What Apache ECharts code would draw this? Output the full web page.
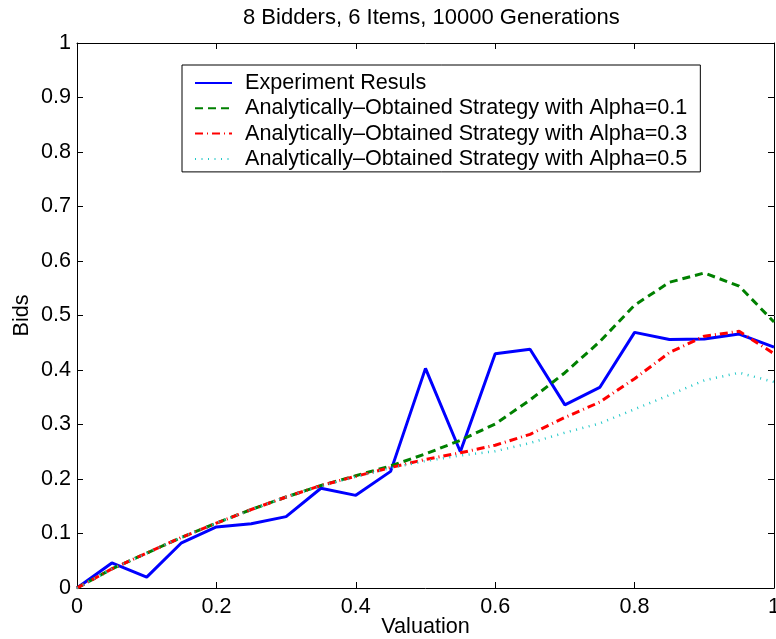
<!DOCTYPE html>
<html>
<head>
<meta charset="utf-8">
<script src="https://cdn.jsdelivr.net/npm/echarts@6/dist/echarts.min.js"></script>
<style>
  html, body { margin: 0; padding: 0; background: #fff; }
  #chart { width: 776px; height: 639px; }
</style>
</head>
<body>
<div id="chart"></div>
<script>
// Valuation grid shared by every curve
const valuation = [0, 0.05, 0.1, 0.15, 0.2, 0.25, 0.3, 0.35, 0.4, 0.45, 0.5,
                   0.55, 0.6, 0.65, 0.7, 0.75, 0.8, 0.85, 0.9, 0.95, 1];

// Mean bids from the evolutionary run
const experimentBids = [0, 0.046, 0.020, 0.083, 0.112, 0.118, 0.131, 0.183, 0.170, 0.214, 0.403,
                        0.250, 0.430, 0.438, 0.336, 0.368, 0.469, 0.456, 0.457, 0.466, 0.442];

// Analytic bidding strategies for three values of alpha
const alpha01Bids = [0, 0.035, 0.064, 0.093, 0.119, 0.144, 0.167, 0.188, 0.206, 0.224, 0.246,
                     0.271, 0.301, 0.345, 0.395, 0.452, 0.519, 0.561, 0.578, 0.554, 0.488];
const alpha03Bids = [0, 0.035, 0.064, 0.093, 0.119, 0.144, 0.167, 0.188, 0.205, 0.221, 0.236,
                     0.248, 0.262, 0.282, 0.313, 0.341, 0.384, 0.432, 0.462, 0.471, 0.430];
const alpha05Bids = [0, 0.035, 0.064, 0.093, 0.119, 0.144, 0.167, 0.187, 0.204, 0.220, 0.233,
                     0.243, 0.251, 0.266, 0.285, 0.302, 0.328, 0.354, 0.381, 0.395, 0.378];

const seriesNames = [
  'Experiment Resuls',
  'Analytically\u2013Obtained Strategy with Alpha=0.1',
  'Analytically\u2013Obtained Strategy with Alpha=0.3',
  'Analytically\u2013Obtained Strategy with Alpha=0.5'
];

// Tick positions
const xTicks = [0, 0.2, 0.4, 0.6, 0.8, 1];
const yTicks = [0, 0.1, 0.2, 0.3, 0.4, 0.5, 0.6, 0.7, 0.8, 0.9, 1];

const titleText = '8 Bidders, 6 Items, 10000 Generations';
const xName = 'Valuation';
const yName = 'Bids';

const FONT = '"Liberation Sans", Arial, Helvetica, sans-serif';
const FS = 21.6;

function pairs(ys) { return valuation.map((x, i) => [x, ys[i]]); }
const fmt = v => String(+(+v).toFixed(2));

const frameLine = { show: true, onZero: false, lineStyle: { color: '#000', width: 1 } };
const innerTick = { show: true, inside: true, length: 6, lineStyle: { color: '#000', width: 1 } };

const chart = echarts.init(document.getElementById('chart'), null, { renderer: 'canvas' });

chart.setOption({
  animation: false,
  backgroundColor: '#fff',
  title: {
    text: titleText,
    left: 243,
    top: 7,
    padding: 0,
    textStyle: { fontFamily: FONT, fontSize: 22, fontWeight: 'normal', color: '#000' }
  },
  // fixed plot rectangle; labels may sit at the canvas edge
  grid: { left: 77, right: 2, top: 43, bottom: 51, containLabel: false, outerBoundsMode: 'none' },
  legend: {
    orient: 'vertical',
    left: 182,
    top: 65,
    padding: [7, 13, 2, 12],
    itemGap: 3.3,
    itemWidth: 37,
    itemHeight: 14,
    borderColor: '#000',
    borderWidth: 1,
    backgroundColor: '#fff',
    selectedMode: false,
    // line-only samples: hide the marker drawn on top of each sample line
    itemStyle: { opacity: 0 },
    textStyle: { fontFamily: FONT, fontSize: FS, color: '#000', lineHeight: 20, padding: [0, 0, 0, 8] },
    data: seriesNames
  },
  xAxis: [
    {
      type: 'value', min: 0, max: 1, position: 'bottom',
      name: xName, nameLocation: 'middle', nameGap: 28, nameMoveOverlap: false,
      nameTextStyle: { fontFamily: FONT, fontSize: FS, color: '#000' },
      axisLine: frameLine,
      axisTick: Object.assign({ customValues: xTicks }, innerTick),
      axisLabel: { customValues: xTicks, formatter: fmt, margin: 8, fontFamily: FONT, fontSize: FS, color: '#000' },
      splitLine: { show: false }
    },
    {
      type: 'value', min: 0, max: 1, position: 'top',
      axisLine: frameLine,
      axisTick: Object.assign({ customValues: xTicks }, innerTick),
      axisLabel: { show: false },
      splitLine: { show: false }
    }
  ],
  yAxis: [
    {
      type: 'value', min: 0, max: 1, position: 'left',
      name: yName, nameLocation: 'middle', nameGap: 44, nameRotate: 90, nameMoveOverlap: false,
      nameTextStyle: { fontFamily: FONT, fontSize: FS, color: '#000' },
      axisLine: frameLine,
      axisTick: Object.assign({ customValues: yTicks }, innerTick),
      axisLabel: { customValues: yTicks, formatter: fmt, margin: 6, fontFamily: FONT, fontSize: FS, color: '#000' },
      splitLine: { show: false }
    },
    {
      type: 'value', min: 0, max: 1, position: 'right',
      axisLine: frameLine,
      axisTick: Object.assign({ customValues: yTicks }, innerTick),
      axisLabel: { show: false },
      splitLine: { show: false }
    }
  ],
  series: [
    {
      name: seriesNames[0], type: 'line', data: pairs(experimentBids),
      symbol: 'none', clip: true,
      lineStyle: { color: '#0000ff', width: 3, type: 'solid' },
      itemStyle: { color: '#0000ff' }
    },
    {
      name: seriesNames[1], type: 'line', data: pairs(alpha01Bids),
      symbol: 'none', clip: true,
      lineStyle: { color: '#008000', width: 3, type: [8, 5] },
      itemStyle: { color: '#008000' }
    },
    {
      name: seriesNames[2], type: 'line', data: pairs(alpha03Bids),
      symbol: 'none', clip: true,
      lineStyle: { color: '#ff0000', width: 3, type: [8, 4, 1, 4] },
      itemStyle: { color: '#ff0000' }
    },
    {
      name: seriesNames[3], type: 'line', data: pairs(alpha05Bids),
      symbol: 'none', clip: true,
      lineStyle: { color: '#22c8c8', width: 2.5, type: [1, 5.5] },
      itemStyle: { color: '#22c8c8' }
    }
  ]
});
</script>
</body>
</html>
